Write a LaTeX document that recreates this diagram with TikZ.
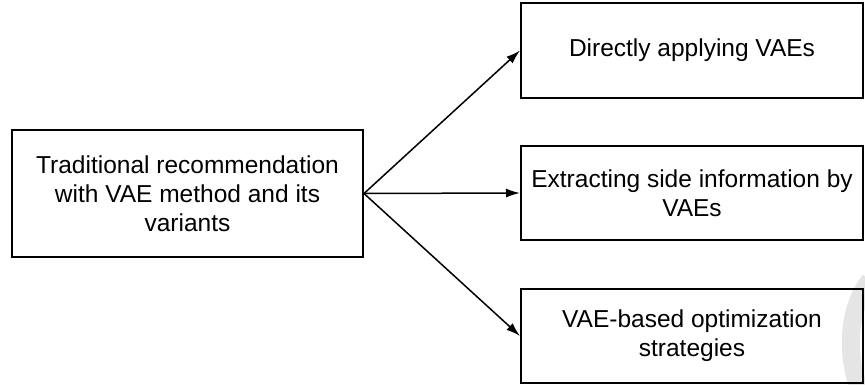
\documentclass[tikz,border=0pt]{standalone}
\usepackage{fontspec}
\setmainfont{Liberation Sans}
\usetikzlibrary{arrows.meta}
\begin{document}
\begin{tikzpicture}[x=1pt,y=-1pt,
  box/.style={draw, line width=2pt, align=center, font=\fontsize{24.5}{29}\selectfont, inner sep=0pt},
  rbox/.style={box, minimum width=342pt, minimum height=95pt},
  arr/.style={-{Latex[length=14pt,width=9pt]}, line width=1.5pt}]
\useasboundingbox (0,0) rectangle (865,385);
\begin{scope}
\clip (0,0) rectangle (865,385);
\draw[gray!20, line width=18pt] (870,280) .. controls (847,310) and (846,355) .. (860,392);
\end{scope}
\node[box, minimum width=351pt, minimum height=127pt] (src) at (187.5,193.5)
  {Traditional recommendation\\with VAE method and its\\variants};
\node[rbox] (b1) at (692,50.5) {Directly applying VAEs};
\node[rbox, minimum height=94pt] (b2) at (692,193) {Extracting side information by\\VAEs};
\node[rbox, minimum height=94pt] (b3) at (692,336) {VAE-based optimization\\strategies};
\draw[arr] (src.east) -- (b1.west);
\draw[arr] (src.east) -- (b2.west);
\draw[arr] (src.east) -- (b3.west);
\end{tikzpicture}
\end{document}
